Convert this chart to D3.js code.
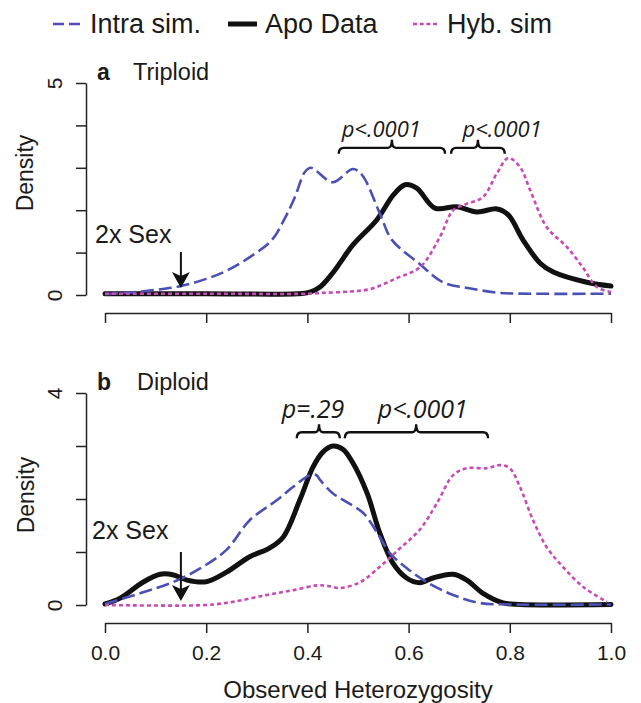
<!DOCTYPE html>
<html><head><meta charset="utf-8">
<script src="https://cdn.jsdelivr.net/npm/d3@7"></script>
<style>
body{margin:0;background:#fff;}
text{font-family:"Liberation Sans",Arial,Helvetica,sans-serif;fill:#1a1a1a;}
.pv{font-family:"Open Sans","Liberation Sans",sans-serif;font-style:italic;}
</style></head>
<body>
<svg id="c" width="641" height="703"></svg>
<script>
// ---------------- data ----------------
const xTicks = [0, 0.2, 0.4, 0.6, 0.8, 1.0];
const seriesNames = ["Intra sim.", "Apo Data", "Hyb. sim"];

// Panel a: Triploid
const intraA_h = [0, 0.05, 0.1, 0.15, 0.2, 0.24, 0.287, 0.33, 0.355, 0.375, 0.395, 0.407, 0.45, 0.49, 0.508, 0.543, 0.567, 0.62, 0.668, 0.72, 0.78, 0.85, 1.0];
const intraA_d = [0.02, 0.06, 0.12, 0.21, 0.38, 0.57, 0.9, 1.3, 1.8, 2.3, 2.9, 3.0, 2.66, 2.97, 2.83, 1.93, 1.3, 0.75, 0.3, 0.16, 0.05, 0.03, 0.03];
const apoA_h = [0, 0.2, 0.38, 0.405, 0.425, 0.45, 0.49, 0.537, 0.57, 0.593, 0.616, 0.652, 0.695, 0.735, 0.775, 0.797, 0.826, 0.86, 0.886, 0.952, 1.0];
const apoA_d = [0.03, 0.03, 0.03, 0.07, 0.19, 0.52, 1.18, 1.77, 2.36, 2.6, 2.52, 2.05, 2.08, 1.96, 2.03, 1.89, 1.3, 0.75, 0.54, 0.3, 0.21];
const hybA_h = [0, 0.2, 0.4, 0.43, 0.48, 0.524, 0.577, 0.623, 0.662, 0.688, 0.715, 0.747, 0.775, 0.797, 0.82, 0.84, 0.873, 0.913, 0.945, 0.972, 1.0];
const hybA_d = [0.03, 0.03, 0.03, 0.05, 0.08, 0.14, 0.4, 0.66, 1.37, 2.0, 2.15, 2.31, 2.88, 3.23, 3.02, 2.48, 1.6, 1.13, 0.64, 0.19, 0.07];

// Panel b: Diploid
const intraB_h = [0, 0.069, 0.134, 0.188, 0.24, 0.286, 0.34, 0.372, 0.405, 0.418, 0.425, 0.45, 0.478, 0.51, 0.537, 0.563, 0.596, 0.636, 0.688, 0.74, 0.8, 1.0];
const intraB_d = [0.02, 0.22, 0.43, 0.69, 1.04, 1.6, 1.98, 2.23, 2.45, 2.45, 2.36, 2.11, 1.94, 1.74, 1.38, 0.98, 0.7, 0.43, 0.19, 0.04, 0.01, 0.01];
const apoB_h = [0, 0.03, 0.075, 0.109, 0.134, 0.162, 0.2, 0.24, 0.286, 0.326, 0.352, 0.385, 0.411, 0.43, 0.45, 0.47, 0.49, 0.518, 0.543, 0.569, 0.596, 0.622, 0.648, 0.688, 0.715, 0.747, 0.787, 0.82, 1.0];
const apoB_d = [0.02, 0.13, 0.43, 0.58, 0.57, 0.47, 0.44, 0.62, 0.91, 1.08, 1.28, 1.98, 2.6, 2.88, 3.0, 2.94, 2.68, 2.11, 1.36, 0.79, 0.51, 0.42, 0.51, 0.58, 0.47, 0.22, 0.04, 0.01, 0.01];
const hybB_h = [0, 0.2, 0.253, 0.32, 0.372, 0.418, 0.44, 0.464, 0.504, 0.543, 0.583, 0.622, 0.656, 0.688, 0.715, 0.755, 0.781, 0.8, 0.82, 0.846, 0.873, 0.905, 0.945, 0.992];
const hybB_d = [0, 0, 0.06, 0.19, 0.28, 0.37, 0.36, 0.32, 0.43, 0.72, 1.07, 1.42, 1.92, 2.45, 2.58, 2.58, 2.64, 2.58, 2.23, 1.6, 1.09, 0.72, 0.34, 0.06];

// annotations (data units)
const bracketsA = [
  {x1: 0.462, x2: 0.672, xc: 0.567, y: 3.47, label: "p<.0001", lx: 0.546, ly: 3.73},
  {x1: 0.684, x2: 0.790, xc: 0.737, y: 3.47, label: "p<.0001", lx: 0.785, ly: 3.73}
];
const bracketsB = [
  {x1: 0.379, x2: 0.464, xc: 0.423, y: 3.26, label: "p=.29", lx: 0.411, ly: 3.53},
  {x1: 0.474, x2: 0.757, xc: 0.615, y: 3.26, label: "p<.0001", lx: 0.628, ly: 3.53}
];
const sexMarker = 0.15;

// ---------------- drawing ----------------
const svg = d3.select("#c");
const x = d3.scaleLinear([0, 1], [105, 611]);
const COL = {intra: "#4a50b4", apo: "#111111", hyb: "#c84bb4"};

function zip(h, d){ return h.map((v,i)=>({h:v, d:d[i]})); }

function panel(opt){
  const y = d3.scaleLinear([0, opt.ymax], [opt.y0, opt.y1]);
  const g = svg.append("g");
  // y axis
  const ya = g.append("g").attr("transform", `translate(86,0)`)
    .call(d3.axisLeft(y).tickValues(d3.range(0, opt.ymax + 1)).tickSize(10).tickSizeOuter(0)
      .tickFormat(d => (d === 0 || d === opt.ymax) ? d : ""));
  ya.select(".domain").attr("stroke", "#222").attr("stroke-width", 1.5);
  ya.selectAll(".tick line").attr("stroke", "#222").attr("stroke-width", 1.5);
  ya.selectAll(".tick text").attr("transform", "rotate(-90)").attr("x", 0).attr("y", -24)
    .attr("dy", 0).attr("text-anchor", "middle").style("font-size", "21px")
    .style("font-family", '"Liberation Sans",Arial,sans-serif').attr("fill", "#1a1a1a");
  // x axis
  const xa = g.append("g").attr("transform", `translate(0,${opt.xaxisY})`)
    .call(d3.axisBottom(x).tickValues(xTicks).tickSize(10).tickSizeOuter(0)
      .tickFormat(opt.xlabels ? d3.format(".1f") : () => ""));
  xa.select(".domain").attr("stroke", "#222").attr("stroke-width", 1.5);
  xa.selectAll(".tick line").attr("stroke", "#222").attr("stroke-width", 1.5);
  xa.selectAll(".tick text").attr("y", 37).attr("dy", 0).style("font-size", "21px")
    .style("font-family", '"Liberation Sans",Arial,sans-serif').attr("fill", "#1a1a1a");

  // Density label
  g.append("text").attr("transform", `translate(${opt.densX},${opt.densY}) rotate(-90)`)
    .attr("text-anchor", "middle").style("font-size", "23px").text("Density");
  // panel letter + title
  g.append("text").attr("x", 97).attr("y", opt.titleY).style("font-size", "23px")
    .style("font-weight", "bold").text(opt.letter);
  g.append("text").attr("x", opt.titleX).attr("y", opt.titleY).style("font-size", "23.5px").text(opt.title);

  // lines
  const line = d3.line().x(p => x(p.h)).y(p => y(p.d)).curve(d3.curveCatmullRom.alpha(0.5));
  g.append("path").datum(zip(opt.apo[0], opt.apo[1])).attr("d", line)
    .attr("fill", "none").attr("stroke", COL.apo).attr("stroke-width", 5)
    .attr("stroke-linejoin", "round").attr("stroke-linecap", "round");
  g.append("path").datum(zip(opt.intra[0], opt.intra[1])).attr("d", line)
    .attr("fill", "none").attr("stroke", COL.intra).attr("stroke-width", 2.6)
    .attr("stroke-dasharray", "13,5");
  g.append("path").datum(zip(opt.hyb[0], opt.hyb[1])).attr("d", line)
    .attr("fill", "none").attr("stroke", COL.hyb).attr("stroke-width", 2.6)
    .attr("stroke-dasharray", "4,3");

  // brackets
  opt.brackets.forEach(b => {
    const x1 = x(b.x1), x2 = x(b.x2), xc = x(b.xc), yb = y(b.y);
    const p = `M${x1},${yb+6} Q${x1},${yb} ${x1+5},${yb} L${xc-4},${yb} Q${xc},${yb} ${xc},${yb-8} Q${xc},${yb} ${xc+4},${yb} L${x2-5},${yb} Q${x2},${yb} ${x2},${yb+6}`;
    g.append("path").attr("d", p).attr("fill", "none").attr("stroke", "#111").attr("stroke-width", 2.4);
    g.append("text").attr("class", "pv").attr("x", x(b.lx)).attr("y", y(b.ly))
      .attr("text-anchor", "middle").style("font-size", opt.pvSize + "px").text(b.label);
  });

  // 2x Sex arrow
  const ax = x(sexMarker);
  g.append("text").attr("x", opt.sexX).attr("y", opt.sexY).style("font-size", "25px").text("2x Sex");
  g.append("line").attr("x1", ax).attr("x2", ax).attr("y1", opt.arrTop).attr("y2", opt.arrTip - 8)
    .attr("stroke", "#111").attr("stroke-width", 2);
  g.append("path").attr("d", `M${ax},${opt.arrTip} L${ax-9},${opt.arrTip-16} L${ax},${opt.arrTip-12} L${ax+9},${opt.arrTip-16} Z`)
    .attr("fill", "#111");
}

panel({ymax: 5, y0: 295, y1: 83, xaxisY: 313, xlabels: false, densX: 33, densY: 173,
  letter: "a", title: "Triploid", titleX: 133, titleY: 80,
  intra: [intraA_h, intraA_d], apo: [apoA_h, apoA_d], hyb: [hybA_h, hybA_d],
  brackets: bracketsA, pvSize: 22, sexX: 95, sexY: 243, arrTop: 252, arrTip: 288});

panel({ymax: 4, y0: 605, y1: 393, xaxisY: 623, xlabels: true, densX: 34, densY: 495,
  letter: "b", title: "Diploid", titleX: 137, titleY: 390,
  intra: [intraB_h, intraB_d], apo: [apoB_h, apoB_d], hyb: [hybB_h, hybB_d],
  brackets: bracketsB, pvSize: 25, sexX: 92, sexY: 539, arrTop: 552, arrTip: 601});

// x axis title
svg.append("text").attr("x", x(0.5)).attr("y", 698).attr("text-anchor", "middle")
  .style("font-size", "24px").text("Observed Heterozygosity");

// legend
const leg = [
  {name: seriesNames[0], x1: 53, x2: 81, tx: 90, col: COL.intra, w: 2.6, dash: "11,5"},
  {name: seriesNames[1], x1: 228, x2: 257, tx: 265, col: COL.apo, w: 5, dash: null},
  {name: seriesNames[2], x1: 413, x2: 437, tx: 447, col: COL.hyb, w: 2.6, dash: "4,2.7"}
];
const lg = svg.append("g");
leg.forEach(l => {
  lg.append("line").attr("x1", l.x1).attr("x2", l.x2).attr("y1", 24).attr("y2", 24)
    .attr("stroke", l.col).attr("stroke-width", l.w).attr("stroke-dasharray", l.dash);
  lg.append("text").attr("x", l.tx).attr("y", 33).style("font-size", "27px").text(l.name);
});
</script>
</body></html>
